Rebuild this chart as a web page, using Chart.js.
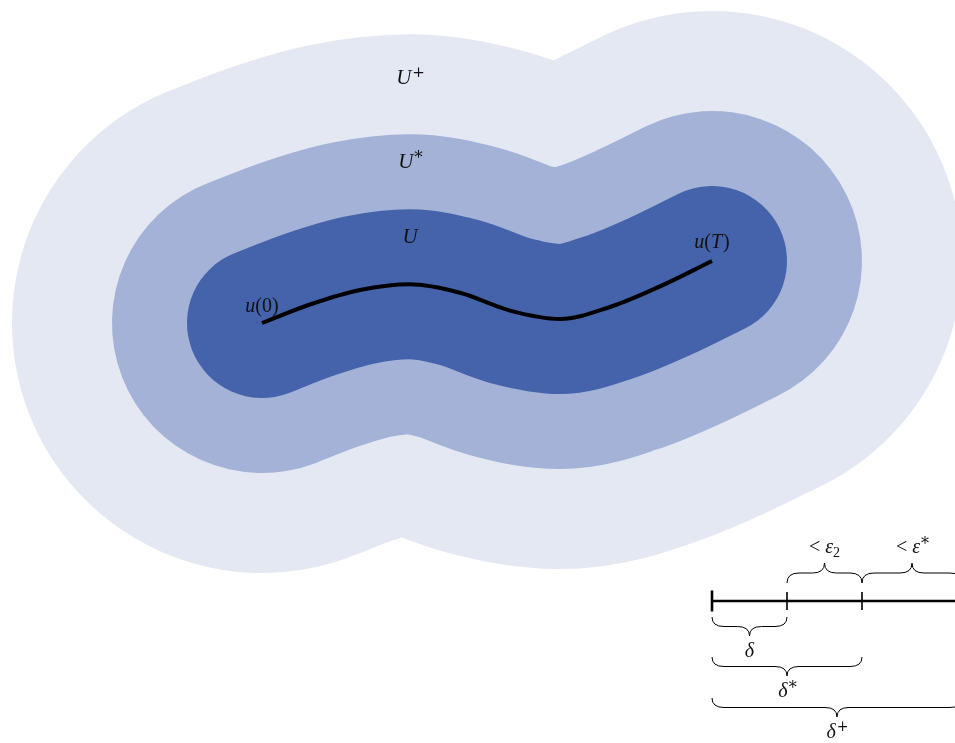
<!DOCTYPE html>
<html><head><meta charset="utf-8">
<script src="https://cdn.jsdelivr.net/npm/chart.js@4.4.0/dist/chart.umd.min.js"></script>
<style>html,body{margin:0;padding:0;background:#fff;overflow:hidden}canvas{display:block}</style>
</head><body><canvas id="c" width="955" height="743"></canvas>
<script>
// Trajectory u(t) for t in [0, T], in plot units (x right, y down)
const curveX = [262, 310, 360, 410, 460, 510, 560, 610, 660, 712];
const curveY = [323, 304.5, 290, 284.3, 292.8, 310.6, 319, 307, 286.4, 261];
// Tube radii delta, delta*, delta+ and the neighbourhoods they bound
const tubeRadii = [75, 150, 250];
const tubeNames = [[['U', 1]], [['U', 1], ['*', 0, 'sup']], [['U', 1], ['+', 0, 'sup']]];
const tubeColors = ['#4463aa', '#a3b2d6', '#e3e8f3'];
// Scale bar (origin of the radius ruler)
const barOrigin = [712, 601];

const SERIF = '"Liberation Serif", "DejaVu Serif", serif';
const curvePts = curveX.map((x, i) => ({ x, y: curveY[i] }));

function unitPx(chart, r) {
  const s = chart.scales.x;
  return s.getPixelForValue(r) - s.getPixelForValue(0);
}

const datasets = [];
// tubes, largest drawn underneath
tubeRadii.forEach((r, i) => {
  datasets.push({
    data: curvePts,
    borderColor: tubeColors[i],
    borderWidth: ctx => 2 * unitPx(ctx.chart, r),
    borderCapStyle: 'round',
    borderJoinStyle: 'round',
    cubicInterpolationMode: 'monotone',
    pointRadius: 0,
    clip: false,
    order: i + 1
  });
});
// the trajectory itself
datasets.push({
  data: curvePts,
  borderColor: '#000',
  borderWidth: 4,
  borderCapStyle: 'butt',
  borderJoinStyle: 'round',
  cubicInterpolationMode: 'monotone',
  pointRadius: 0,
  clip: false,
  order: 0
});
// ruler line and ticks at 0, delta, delta*
const [bx, by] = barOrigin;
datasets.push({
  data: [{ x: bx, y: by }, { x: bx + tubeRadii[2], y: by }],
  borderColor: '#000', borderWidth: 2.6, pointRadius: 0, clip: false, order: 0
});
[0, tubeRadii[0], tubeRadii[1]].forEach((r, i) => {
  datasets.push({
    data: [{ x: bx + r, y: by - (i ? 9 : 10.5) }, { x: bx + r, y: by + (i ? 9 : 10.5) }],
    borderColor: '#000', borderWidth: i ? 1.6 : 2.6, borderCapStyle: 'butt',
    pointRadius: 0, clip: false, order: 0
  });
});

function drawRich(ctx, parts, cx, cy, size) {
  const fontFor = p => {
    if (p[0] === '*' && p[2]) return Math.round(size * 0.8) + 'px "DejaVu Serif", serif';
    if (p[0] === '+' && p[2]) return Math.round(size * 0.7) + 'px "DejaVu Serif", serif';
    const sz = p[2] ? Math.round(size * 0.72) : size;
    return (p[1] ? 'italic ' : '') + sz + 'px ' + SERIF;
  };
  let w = 0;
  parts.forEach(p => { ctx.font = fontFor(p); w += ctx.measureText(p[0]).width + (p[3] || 0); });
  let x = cx - w / 2;
  ctx.textBaseline = 'alphabetic';
  ctx.textAlign = 'left';
  parts.forEach(p => {
    ctx.font = fontFor(p);
    let y = cy;
    if (p[2] === 'sup') y -= (p[0] === '*' ? size * 0.22 : size * 0.34);
    if (p[2] === 'sub') y += size * 0.18;
    ctx.fillText(p[0], x + (p[2] === 'sup' ? 1 : 0), y);
    x += ctx.measureText(p[0]).width + (p[3] || 0);
  });
}

function brace(ctx, x1, x2, y, a, dir) {
  const m = (x1 + x2) / 2, h = dir * a / 2, q = Math.min(12, (x2 - x1) / 4);
  ctx.beginPath();
  ctx.moveTo(x1, y);
  ctx.quadraticCurveTo(x1, y + h, x1 + q, y + h);
  ctx.lineTo(m - q, y + h);
  ctx.quadraticCurveTo(m, y + h, m, y + 2 * h);
  ctx.quadraticCurveTo(m, y + h, m + q, y + h);
  ctx.lineTo(x2 - q, y + h);
  ctx.quadraticCurveTo(x2, y + h, x2, y);
  ctx.stroke();
}

const annotate = {
  id: 'annotate',
  afterDatasetsDraw(chart) {
    const ctx = chart.ctx, sx = chart.scales.x, sy = chart.scales.y;
    const X = v => sx.getPixelForValue(v), Y = v => sy.getPixelForValue(v);
    ctx.save();
    ctx.fillStyle = '#111';
    // neighbourhood names above the crest of the trajectory
    const firstHalf = curveY.slice(0, Math.floor(curveY.length / 2));
    const top = curveY.indexOf(Math.min(...firstHalf));
    const inner = [0].concat(tubeRadii);
    tubeRadii.forEach((r, i) => {
      const mid = (inner[i] + r) / 2 + (i === 2 ? 0 : 4);
      drawRich(ctx, tubeNames[i], X(curveX[top]), Y(curveY[top] - mid), 21);
    });
    // end point labels
    const n = curveX.length - 1;
    drawRich(ctx, [['u', 1], ['(0)', 0]], X(curveX[0]), Y(curveY[0]) - 11, 20);
    drawRich(ctx, [['u', 1], ['(', 0], ['T', 1, 0, 1], [')', 0]], X(curveX[n]), Y(curveY[n]) - 13, 20);

    // braces along the ruler
    ctx.strokeStyle = '#000';
    ctx.lineWidth = 1;
    const [d, ds, dp] = tubeRadii;
    const below = [[d, 16, [['δ', 1]]], [ds, 56, [['δ', 1], ['*', 0, 'sup']]], [dp, 97, [['δ', 1], ['+', 0, 'sup']]]];
    below.forEach(([r, off, lab]) => {
      brace(ctx, X(bx), X(bx + r), Y(by) + off, 19, 1);
      drawRich(ctx, lab, X(bx + r / 2), Y(by) + off + 40, 20);
    });
    const above = [[d, ds, [['<', 0, 0, 5], ['ε', 1], ['2', 0, 'sub']]], [ds, dp, [['<', 0, 0, 5], ['ε', 1], ['*', 0, 'sup']]]];
    above.forEach(([r1, r2, lab]) => {
      brace(ctx, X(bx + r1), X(bx + r2), Y(by) - 18, 20, -1);
      drawRich(ctx, lab, X(bx + (r1 + r2) / 2), Y(by) - 48, 20);
    });
    ctx.restore();
  }
};

new Chart(document.getElementById('c'), {
  type: 'line',
  data: { datasets },
  options: {
    responsive: false,
    devicePixelRatio: 1,
    animation: false,
    layout: { padding: 0 },
    plugins: { legend: { display: false }, tooltip: { enabled: false } },
    scales: {
      x: { type: 'linear', min: 0, max: 955, display: false },
      y: { type: 'linear', min: 0, max: 743, reverse: true, display: false }
    }
  },
  plugins: [annotate]
});
</script>
</body></html>
